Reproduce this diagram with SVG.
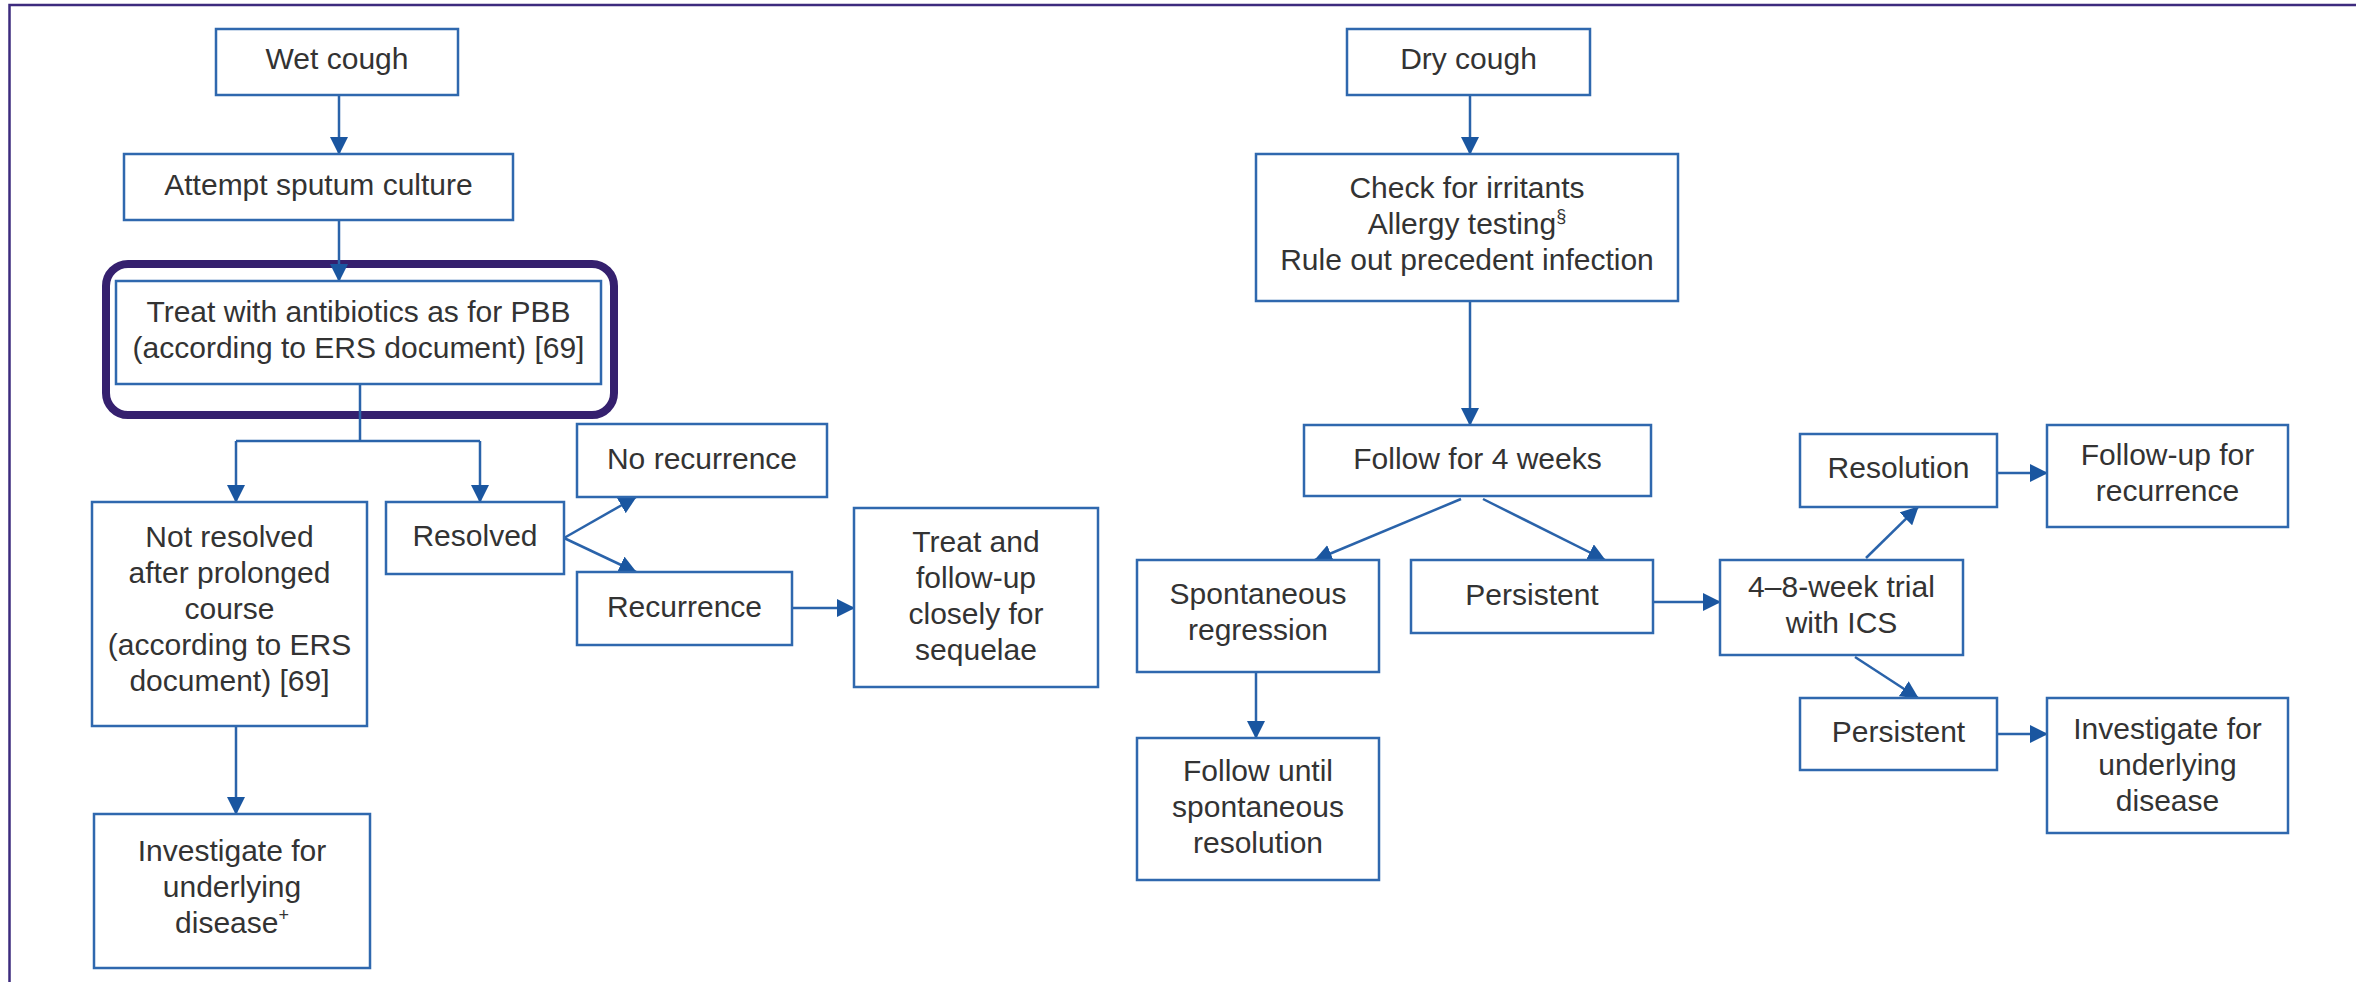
<svg xmlns="http://www.w3.org/2000/svg" width="2356" height="982" viewBox="0 0 2356 982">
<defs>
<style>
.box{fill:#ffffff;stroke:#2f68ae;stroke-width:2.5}
.t{font-family:"Liberation Sans",Arial,sans-serif;font-size:30px;fill:#333333;text-anchor:middle}
.c{fill:none;stroke:#2a63aa;stroke-width:2.5;marker-end:url(#ah)}
.l{fill:none;stroke:#2a63aa;stroke-width:2.5}
.sup{font-size:18px}
</style>
<marker id="ah" viewBox="0 0 18 18" refX="17" refY="9" markerWidth="18" markerHeight="18" orient="auto" markerUnits="userSpaceOnUse">
<path d="M0,0 L18,9 L0,18 z" fill="#1a56a0"/>
</marker>
</defs>
<rect x="0" y="0" width="2356" height="982" fill="#ffffff"/>
<path d="M2400,5 H9.5 V1000" fill="none" stroke="#3d2b7e" stroke-width="2.5"/>
<rect x="106" y="264" width="508" height="151" rx="22" ry="22" fill="none" stroke="#35206e" stroke-width="8"/>

<g id="connectors">
<path class="c" d="M339,95 V154"/>
<path class="c" d="M339,220 V281"/>
<path class="l" d="M360,384 V441 M236,441 H480"/>
<path class="c" d="M236,441 V502"/>
<path class="c" d="M480,441 V502"/>
<path class="c" d="M564,538 L636,497"/>
<path class="c" d="M564,538 L636,572"/>
<path class="c" d="M792,608 H854"/>
<path class="c" d="M236,726 V814"/>
<path class="c" d="M1470,95 V154"/>
<path class="c" d="M1470,301 V425"/>
<path class="c" d="M1461,499 L1315,560"/>
<path class="c" d="M1483,499 L1605,560"/>
<path class="c" d="M1256,672 V738"/>
<path class="c" d="M1653,602 H1720"/>
<path class="c" d="M1866,558 L1918,507"/>
<path class="c" d="M1855,657 L1918,698"/>
<path class="c" d="M1997,473 H2047"/>
<path class="c" d="M1997,734 H2047"/>
</g>

<g id="wet-cough"><rect class="box" x="216" y="29" width="242" height="66"/><text class="t" x="337" y="69">Wet cough</text></g>
<g id="sputum"><rect class="box" x="124" y="154" width="389" height="66"/><text class="t" x="318.5" y="195">Attempt sputum culture</text></g>
<g id="treat-antibiotics"><rect class="box" x="116" y="281" width="485" height="103"/><text class="t" x="358.5" y="322">Treat with antibiotics as for PBB</text><text class="t" x="358.5" y="358">(according to ERS document) [69]</text></g>
<g id="not-resolved"><rect class="box" x="92" y="502" width="275" height="224"/>
<text class="t" x="229.5" y="547">Not resolved</text>
<text class="t" x="229.5" y="583">after prolonged</text>
<text class="t" x="229.5" y="619">course</text>
<text class="t" x="229.5" y="655">(according to ERS</text>
<text class="t" x="229.5" y="691">document) [69]</text></g>
<g id="resolved"><rect class="box" x="386" y="502" width="178" height="72"/><text class="t" x="475" y="546">Resolved</text></g>
<g id="no-recurrence"><rect class="box" x="577" y="424" width="250" height="73"/><text class="t" x="702" y="469">No recurrence</text></g>
<g id="recurrence"><rect class="box" x="577" y="572" width="215" height="73"/><text class="t" x="684.5" y="617">Recurrence</text></g>
<g id="treat-follow"><rect class="box" x="854" y="508" width="244" height="179"/>
<text class="t" x="976" y="552">Treat and</text>
<text class="t" x="976" y="588">follow-up</text>
<text class="t" x="976" y="624">closely for</text>
<text class="t" x="976" y="660">sequelae</text></g>
<g id="investigate-left"><rect class="box" x="94" y="814" width="276" height="154"/>
<text class="t" x="232" y="861">Investigate for</text>
<text class="t" x="232" y="897">underlying</text>
<text class="t" x="232" y="933">disease<tspan class="sup" dy="-12">+</tspan></text></g>

<g id="dry-cough"><rect class="box" x="1347" y="29" width="243" height="66"/><text class="t" x="1468.5" y="69">Dry cough</text></g>
<g id="check-irritants"><rect class="box" x="1256" y="154" width="422" height="147"/>
<text class="t" x="1467" y="198">Check for irritants</text>
<text class="t" x="1467" y="234">Allergy testing<tspan class="sup" dy="-12">§</tspan></text>
<text class="t" x="1467" y="270">Rule out precedent infection</text></g>
<g id="follow-4wk"><rect class="box" x="1304" y="425" width="347" height="71"/><text class="t" x="1477.5" y="469">Follow for 4 weeks</text></g>
<g id="spontaneous"><rect class="box" x="1137" y="560" width="242" height="112"/>
<text class="t" x="1258" y="604">Spontaneous</text>
<text class="t" x="1258" y="640">regression</text></g>
<g id="persistent-1"><rect class="box" x="1411" y="560" width="242" height="73"/><text class="t" x="1532" y="605">Persistent</text></g>
<g id="follow-until"><rect class="box" x="1137" y="738" width="242" height="142"/>
<text class="t" x="1258" y="781">Follow until</text>
<text class="t" x="1258" y="817">spontaneous</text>
<text class="t" x="1258" y="853">resolution</text></g>
<g id="ics-trial"><rect class="box" x="1720" y="560" width="243" height="95"/>
<text class="t" x="1841.5" y="597">4–8-week trial</text>
<text class="t" x="1841.5" y="633">with ICS</text></g>
<g id="resolution"><rect class="box" x="1800" y="434" width="197" height="73"/><text class="t" x="1898.5" y="478">Resolution</text></g>
<g id="follow-up-recurrence"><rect class="box" x="2047" y="425" width="241" height="102"/>
<text class="t" x="2167.5" y="465">Follow-up for</text>
<text class="t" x="2167.5" y="501">recurrence</text></g>
<g id="persistent-2"><rect class="box" x="1800" y="698" width="197" height="72"/><text class="t" x="1898.5" y="742">Persistent</text></g>
<g id="investigate-right"><rect class="box" x="2047" y="698" width="241" height="135"/>
<text class="t" x="2167.5" y="739">Investigate for</text>
<text class="t" x="2167.5" y="775">underlying</text>
<text class="t" x="2167.5" y="811">disease</text></g>
</svg>
